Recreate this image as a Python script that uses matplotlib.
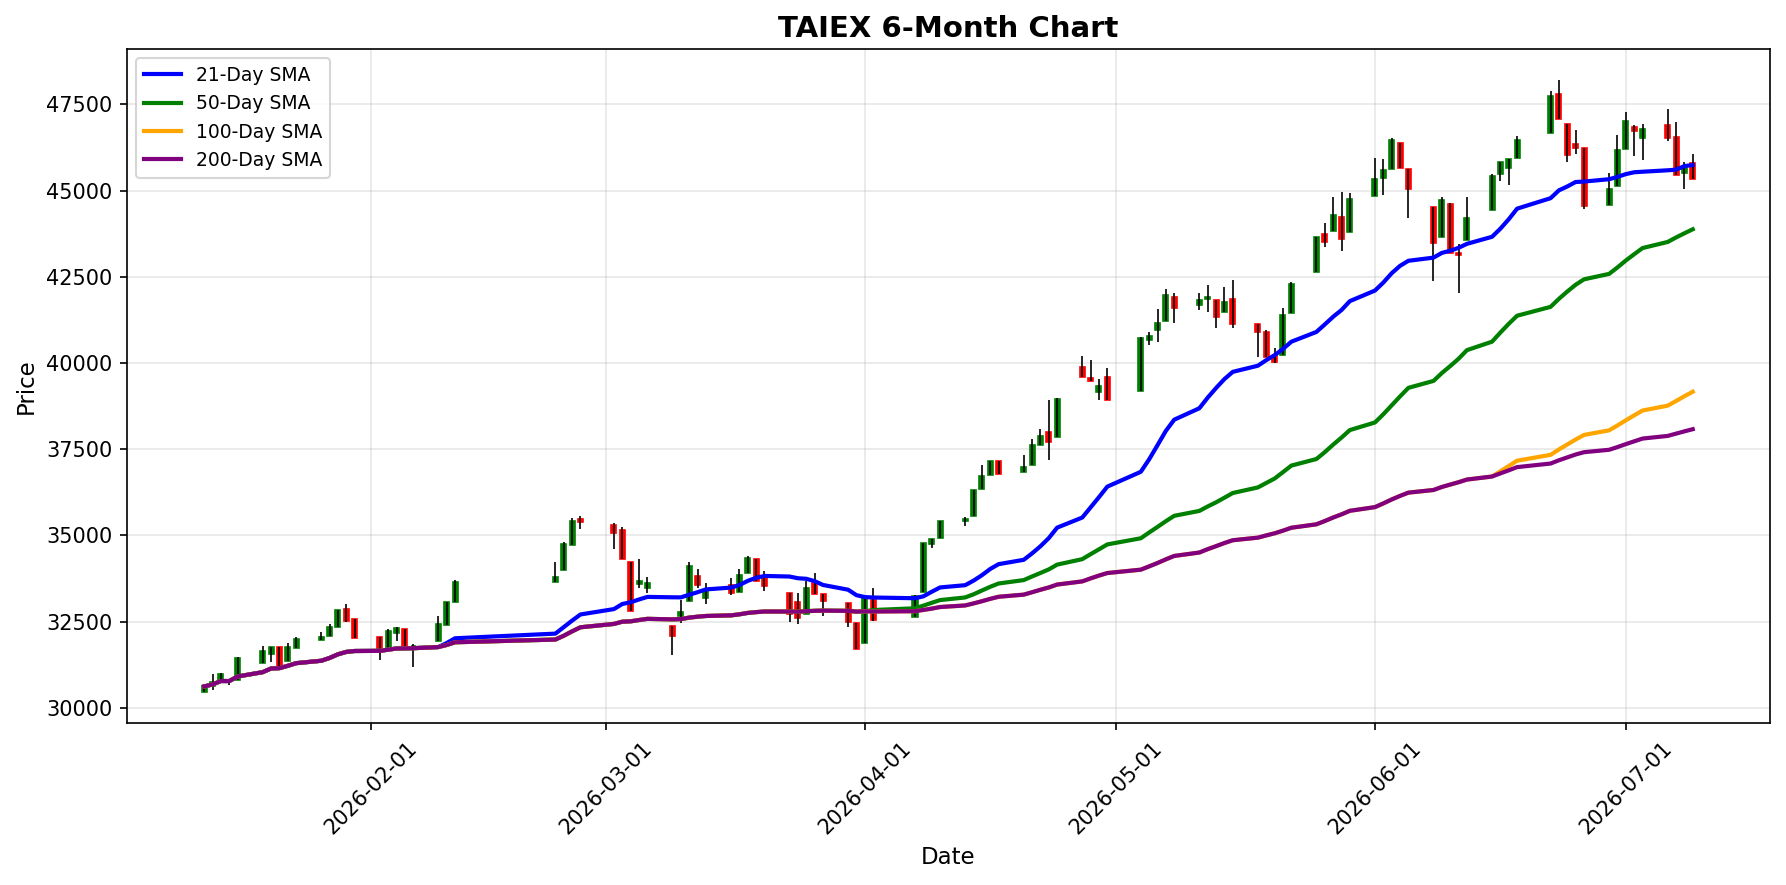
import matplotlib
matplotlib.use("Agg")
import matplotlib.pyplot as plt
import matplotlib.dates as mdates
import numpy as np
import pandas as pd

# trading calendar (TWSE) and closed days inside the window
start_day = "2026-01-12"
end_day = "2026-07-09"
holidays = ["2026-02-12", "2026-02-13", "2026-02-16", "2026-02-17", "2026-02-18",
            "2026-02-19", "2026-02-20", "2026-02-27", "2026-04-03", "2026-04-06",
            "2026-05-01", "2026-06-19"]

opens = [30445, 30618, 30811, 30790, 30811,
         31293, 31563, 31776, 31361, 31747,
         31969, 32084, 32354, 32856, 32567,
         32046, 31747, 32181, 32277, 31790,
         31949, 32403, 33078,
         33656, 33994, 34717, 35479,
         35315, 35151, 34235, 33589, 33483,
         32374, 32673, 33107, 33830, 33193,
         33560, 33367, 33917, 34303, 33801,
         33338, 33078, 32711, 33608, 33290,
         33030, 32451, 31891, 33126,
         32644, 33367, 34746, 34929,
         35421, 35566, 36338, 36743, 37158,
         36839, 37032, 37611, 37997, 37852,
         39877, 39559, 39154, 39588,
         39202, 40678, 40967, 41228, 41903,
         41691, 41855, 41826, 41488, 41855,
         41131, 40909, 40196, 40244, 41440,
         42655, 43735, 43832, 44247, 43813,
         44845, 45356, 45636, 46388, 45636,
         44536, 43668, 44604, 43186, 43572,
         44439, 45491, 45645, 45954,
         46677, 47815, 46947, 46368, 46224,
         44584, 45134, 46214, 46851, 46533,
         46918, 46561, 45520, 45809]

highs = [30686, 30975, 31004, 30840, 31467,
         31805, 31776, 31776, 31872, 32046,
         32190, 32422, 32827, 33000, 32567,
         32046, 32277, 32354, 32277, 31843,
         32663, 33078, 33695,
         34216, 34795, 35508, 35566,
         35345, 35248, 34235, 34303, 33801,
         32374, 33126, 34216, 34013, 33627,
         33753, 34013, 34399, 34303, 33975,
         33338, 33338, 33685, 33898, 33290,
         33030, 32451, 33174, 33483,
         33271, 34785, 34881, 35421,
         35537, 36328, 37052, 37158, 37158,
         37341, 37784, 38093, 38932, 38990,
         40215, 40090, 39540, 39849,
         40745, 40890, 41565, 42144, 42028,
         42028, 42260, 41826, 42192, 42405,
         41131, 40958, 40437, 41584, 42337,
         43668, 44073, 44816, 44960, 44922,
         45935, 45906, 46533, 46388, 45636,
         44536, 44816, 44652, 43446, 44816,
         45472, 45838, 45906, 46581,
         47883, 48220, 46947, 46774, 46224,
         45520, 46629, 47285, 46918, 46947,
         47381, 46986, 45838, 46050]

lows = [30445, 30522, 30782, 30666, 30800,
        31293, 31322, 31216, 31361, 31747,
        31969, 32084, 32354, 32499, 32017,
        31371, 31747, 31949, 31795, 31168,
        31949, 32403, 33078,
        33656, 33994, 34717, 35180,
        34602, 34312, 32817, 33483, 33338,
        31535, 32470, 33107, 33483, 33010,
        33271, 33367, 33917, 33685, 33386,
        32480, 32431, 32711, 33300, 32663,
        32354, 31708, 31891, 32528,
        32644, 33367, 34640, 34929,
        35267, 35566, 36338, 36743, 36772,
        36839, 37032, 37611, 37177, 37852,
        39607, 39492, 38913, 38913,
        39202, 40533, 40620, 41228, 41151,
        41536, 41488, 41016, 41488, 41016,
        40186, 40167, 39993, 40244, 41440,
        42655, 43369, 43832, 43253, 43813,
        44845, 44874, 45636, 45664, 44218,
        42385, 43668, 43205, 42019, 43572,
        44439, 45279, 45162, 45954,
        46677, 47082, 45828, 46069, 44478,
        44584, 45134, 46214, 46002, 45876,
        46436, 45452, 45057, 45346]

closes = [30618, 30734, 30975, 30770, 31438,
          31660, 31776, 31216, 31756, 31988,
          32065, 32335, 32827, 32518, 32017,
          31708, 32239, 32306, 31795, 31805,
          32422, 33078, 33637,
          33801, 34737, 35421, 35383,
          35055, 34312, 32817, 33685, 33627,
          32094, 32788, 34119, 33560, 33415,
          33338, 33849, 34351, 33685, 33541,
          32721, 32595, 33464, 33300, 33097,
          32499, 31708, 33174, 32547,
          33242, 34785, 34881, 35421,
          35489, 36328, 36724, 37158, 36772,
          36984, 37611, 37881, 37707, 38961,
          39607, 39492, 39328, 38913,
          40726, 40794, 41160, 41970, 41585,
          41826, 41903, 41343, 41777, 41131,
          40890, 40167, 40022, 41392, 42289,
          43668, 43514, 44285, 43610, 44748,
          45346, 45587, 46484, 45664, 45057,
          43494, 44719, 43205, 43137, 44198,
          45423, 45838, 45906, 46484,
          47757, 47082, 46031, 46224, 44555,
          45038, 46166, 47034, 46725, 46803,
          46533, 45452, 45664, 45346]

sma_windows = [21, 50, 100, 200]
sma_colors = ["blue", "green", "orange", "purple"]

dates = pd.bdate_range(start_day, end_day)
dates = dates[~dates.isin(pd.to_datetime(holidays))]

df = pd.DataFrame({"Open": opens, "High": highs, "Low": lows, "Close": closes}, index=dates)
for w in sma_windows:
    df[f"SMA{w}"] = df["Close"].rolling(window=w, min_periods=1).mean()

fig = plt.figure(figsize=(1786 / 150, 885 / 150), dpi=150)
ax = fig.add_subplot(111)
fig.subplots_adjust(left=0.0711, right=0.991, bottom=0.183, top=0.9446)

up = df["Close"] >= df["Open"]
colors = np.where(up, "green", "red")
body_bottom = df[["Open", "Close"]].min(axis=1)
body_height = (df["Close"] - df["Open"]).abs()

bars = ax.bar(df.index, body_height, bottom=body_bottom, width=0.6,
              color=colors, edgecolor=colors, linewidth=0.8, zorder=2)
# let the normal 5% margin apply below the lowest body
for b in bars:
    b.sticky_edges.y.clear()
ax.vlines(df.index, df["Low"], df["High"], color="black", linewidth=0.8, zorder=3)

for w, c in zip(sma_windows, sma_colors):
    ax.plot(df.index, df[f"SMA{w}"], color=c, linewidth=2, label=f"{w}-Day SMA", zorder=4)

ax.set_title("TAIEX 6-Month Chart", fontsize=14, fontweight="bold")
ax.set_xlabel("Date", fontsize=11)
ax.set_ylabel("Price", fontsize=11)
ax.xaxis.set_major_locator(mdates.MonthLocator())
ax.xaxis.set_major_formatter(mdates.DateFormatter("%Y-%m-%d"))
plt.setp(ax.get_xticklabels(), rotation=45)
ax.grid(True, alpha=0.3)
ax.legend(loc="upper left", fontsize=9)

fig.savefig("out.png", dpi=150)
